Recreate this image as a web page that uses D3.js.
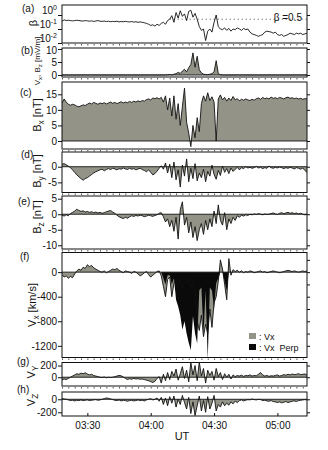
<!DOCTYPE html>
<html>
<head>
<meta charset="utf-8">
<script src="https://cdn.jsdelivr.net/npm/d3@7"></script>
<style>
    body { margin: 0; background: #fff; }
    svg { display: block; font-family: 'Liberation Sans', Arial, sans-serif; }
    .tick text { font-size: 10px; fill: #111; }
    .tick line { stroke: #111; }
    .minor .tick line { stroke: #555; }
</style>
</head>
<body>
<div id="chart"></div>
<script>
'use strict';

// Time grid: one sample per minute, 03:18 -> 05:14 UT
const startTime = '03:18';
const sampleCount = 117;
const timeTicks = ['03:30', '04:00', '04:30', '05:00'];

// (a) plasma beta
const beta = [
    .35, .45, .40, .42, .40, .38, .40, .42, .40, .38,
    .37, .40, .38, .36, .38, .35, .37, .40, .36, .35,
    .37, .34, .36, .33, .35, .34, .36, .32, .34, .33,
    .35, .33, .32, .34, .31, .33, .30, .32, .30, .28,
    .25, .22, .18, .20, .16, .22, .18, .25, .30, .22,
    .40, .50, .90, .30, 1.5, .60, 2.0, .80, 1.2, .40,
    1.8, 2.2, .70, 1.3, .50, .15, .08, .10, .015, .07,
    .10, .06, .30, 1.0, .15, .10, .09, .12, .08, .11,
    .07, .10, .09, .12, .10, .08, .11, .09, .10, .06,
    .045, .04, .035, .03, .035, .04, .06, .07, .065, .06,
    .05, .06, .04, .035, .04, .03, .035, .04, .05, .045,
    .04, .05, .045, .05, .04, .045, .05
];
// (b) Vx Bz [mV/m]
const vxBz = [
    0, 0, 0, 0, 0, 0, 0, 0, 0, 0,
    0, 0, 0, 0, 0, 0, 0, 0, 0, 0,
    0, 0, 0, 0, 0, 0, 0, 0, 0, 0,
    0, 0, 0, 0, 0, 0, 0, 0, 0, 0,
    0, 0, 0, 0, 0, 0, 0, 0, 0, 0,
    0.1, 0.2, 0, 0.3, 0.5, 1.0, 0.6, 1.5, 2.2, 1.2,
    2.8, 4.0, 8.5, 3.0, 7.2, 2.0, 0.8, 0.3, 0.2, 0.1,
    0.3, 0.5, 1.2, 5.5, 0.5, 0.1, 0, 0, 0, 0,
    0, 0, 0, 0, 0, 0, 0, 0, 0, 0,
    0, 0, 0, 0, 0, 0, 0, 0, 0, 0,
    0, 0, 0, 0, 0, 0, 0, 0, 0, 0,
    0, 0, 0, 0, 0, 0, 0
];
// (c) Bx [nT]
const bx = [
    12.2, 13.5, 12.5, 11.8, 11.5, 11.8, 11.6, 11.2, 11.0, 11.3,
    11.6, 11.4, 11.8, 12.2, 11.9, 12.4, 12.1, 11.8, 12.2, 12.0,
    12.3, 11.9, 12.2, 12.5, 12.1, 12.4, 12.0, 12.3, 12.6, 12.2,
    12.5, 12.3, 12.7, 12.4, 12.8, 12.5, 12.9, 12.6, 13.0, 12.8,
    13.3, 13.5, 13.2, 13.8, 13.6, 13.9, 13.5, 14.0, 12.5, 14.5,
    10.0, 13.8, 8.0, 14.5, 7.0, 12.0, 5.0, 11.0, 17.0, 6.0,
    2.5, -1.8, 5.0, 1.0, 7.5, 3.0, 12.0, 14.5, 12.8, 15.5,
    13.0, 14.2, 12.5, 0.0, 13.5, 14.8, 13.2, 14.0, 12.8, 13.8,
    13.0, 14.3, 13.2, 13.6, 12.9, 13.4, 13.1, 13.5, 13.2, 13.0,
    13.4, 13.1, 13.6, 13.8, 13.4, 14.0, 13.6, 13.8, 13.5, 14.1,
    13.7, 13.9, 13.6, 14.0, 13.8, 13.5, 13.9, 14.1, 13.7, 13.9,
    13.6, 13.8, 13.5, 13.7, 13.4, 13.6, 13.5
];
// (d) By [nT]
const by = [
    0.8, 1.0, 0.6, 0.2, -0.3, -1.0, -1.8, -2.6, -3.2, -3.8,
    -4.3, -3.8, -3.5, -3.0, -2.5, -2.0, -1.6, -1.3, -1.0, -0.8,
    -1.3, -0.9, -0.6, -0.9, -0.5, -0.7, -1.0, -0.6, -0.8, -0.4,
    -0.7, -0.9, -0.5, -0.8, -0.6, -1.0, -0.7, -0.5, -0.9, -1.2,
    -1.6, -1.0, -1.8, -2.6, -2.2, -1.4, -0.5, 0.3, -0.8, 1.2,
    -2.0, 0.8, -3.5, 1.5, -4.2, -1.0, -6.5, 0.5, -3.0, 2.5,
    -4.8, -0.5, -3.8, 1.0, -4.5, -2.0, -3.5, -0.8, -4.8, -1.5,
    -3.0, 0.5, -2.5, -4.0, -1.2, -2.8, 0.2, -1.8, -0.6, -2.2,
    -0.4, -1.5, -0.8, -0.2, -1.0, -0.3, -0.6, 0.0, -0.4, -0.2,
    -0.5, -0.3, 0.1, -0.4, -0.2, -0.6, -0.3, -0.5, 0.2, -0.3,
    -0.5, -0.2, -0.4, -0.1, -0.3, -0.6, -0.3, -0.5, -0.2, -0.4,
    -0.7, -0.3, -0.5, -0.8, -0.4, -1.2, -1.8
];
// (e) Bz [nT]
const bz = [
    -0.3, -0.6, -0.2, -0.5, 0.2, 0.6, 1.0, 1.6, 1.2, 0.9,
    1.1, 0.7, 0.9, 0.6, 0.8, 0.5, 0.7, 0.4, 0.6, 0.3,
    0.5, 0.8, 1.0, 1.2, 0.7, 0.3, -0.3, -0.8, -1.1, -1.4,
    -1.0, -1.3, -0.8, -0.5, -0.7, -0.4, -0.6, -0.3, -0.5, -0.8,
    -0.6, -0.3, -0.5, -0.7, -0.4, -0.2, 0.3, 0.5, -0.8, -2.5,
    -1.5, -4.0, -2.0, -5.5, -1.0, -8.0, 1.5, 4.0, -3.5, -1.0,
    -6.0, -2.5, -7.5, -4.0, -8.5, -5.0, -3.0, -6.5, -2.0, -5.0,
    -1.5, -4.0, 1.0, -3.0, 3.0, -2.0, -3.5, 0.5, -5.0, -1.5,
    -3.0, -1.0, -2.0, -0.5, -1.0, -0.3, -0.6, -0.2, -0.4, 0.0,
    -0.2, 0.1, -0.1, 0.2, 0.0, -0.2, 0.1, -0.1, 0.0, 0.2,
    0.4, 0.1, -0.1, 0.3, 0.5, 0.2, 0.4, 0.6, 0.3, 0.5,
    0.2, 0.4, 0.1, 0.3, 0.0, -0.2, 0.0
];
// (f) Vx and Vx perp [km/s]
const vx = [
    -40, -80, -60, -100, -70, -90, -30, 20, 50, 30,
    80, 60, 120, 90, 110, 70, 50, 30, 10, 0,
    20, -10, 10, 30, 50, 40, 60, 30, 10, -10,
    20, 10, 0, -20, 10, 0, -30, -60, -40, -10,
    10, -40, -80, -50, -20, 10, 20, -60, -230, -400,
    -120, -80, -400, -180, -120, -250, -100, -300, -150, -200,
    -100, -250, -150, -300, -800, -950, -700, -1050, -850, -1000,
    -600, -900, -500, -400, -150, 200, 50, -200, -450, 220,
    -50, 40, 10, 30, 0, 20, -10, 10, 0, 20,
    10, -10, 0, 10, 20, 0, 10, -10, 0, 10,
    20, 10, 0, -10, 0, 10, 20, 30, 20, 10,
    20, 10, 0, 10, 20, 10, 20
];
const vxPerp = [
    0, 0, 0, 0, 0, 0, 0, 0, 0, 0,
    0, 0, 0, 0, 0, 0, 0, 0, 0, 0,
    0, 0, 0, 0, 0, 0, 0, 0, 0, 0,
    0, 0, 0, 0, 0, 0, 0, 0, 0, 0,
    0, 0, 0, 0, 0, 0, 0, 0, -100, -200,
    -50, -50, -200, -100, -450, -560, -700, -940, -800, -1000,
    -1150, -1270, -720, -1000, -1160, -300, -250, -1000, -300, -1430,
    -250, -300, -600, -180, -100, 0, 0, -150, -300, 0,
    0, 0, 0, 0, 0, 0, 0, 0, 0, 0,
    0, 0, 0, 0, 0, 0, 0, 0, 0, 0,
    0, 0, 0, 0, 0, 0, 0, 0, 0, 0,
    0, 0, 0, 0, 0, 0, 0
];
// (g) Vy [km/s]
const vy = [
    -45, -30, -40, -20, 0, 20, 40, 60, 50, 70,
    60, 75, 55, 40, 50, 30, 20, 10, 0, -5,
    5, -10, 0, -5, 0, 10, 20, 30, 25, 5,
    -20, -40, -25, -35, -20, -30, -25, -35, -30, -40,
    -50, -60, -75, -90, -70, -20, 10, -100, 50, -60,
    80, -40, 100, 20, 140, -50, 60, 180, -20, 120,
    -80, 250, 40, 200, -60, 260, 20, 150, -100, 120,
    30, 100, -50, 150, 10, 80, -40, 60, 0, 50,
    -30, 40, 10, 30, 20, 35, 15, 30, 25, 40,
    20, 30, 25, 50, 80, 40, 20, 30, 15, 25,
    20, 30, 40, 20, 30, 45, 35, 50, 40, 55,
    45, 50, 60, 45, 50, 55, 40
];
// (h) Vz [km/s]
const vz = [
    10, 5, 0, -10, -20, -15, -25, -15, -20, -10,
    -20, -15, -10, -20, -15, -10, -5, -15, -10, 0,
    10, 20, 15, 5, -5, -15, -20, -10, -25, -15,
    -20, -30, -20, -15, -25, -20, -10, -20, -15, -25,
    -10, 0, 10, -10, 0, 20, -30, 30, -80, 20,
    -100, 40, -60, 50, -120, 0, -80, 60, -50, -150,
    30, -220, -40, -250, -100, 50, -180, -20, -200, 40,
    -150, -60, 60, -180, -80, -120, -40, -100, -60, -90,
    -40, -70, -30, -50, -20, -10, -25, -15, -5, -10,
    5, -5, -10, 0, -5, -20, -15, -25, -30, -20,
    -35, -40, -50, -40, -55, -45, -35, -50, -40, -30,
    -25, -35, -20, -15, -10, -5, -10
];

// Tick values
const betaTicks = [1, 0.1, 0.01];
const vxBzTicks = [0, 5, 10];
const bxTicks = [0, 5, 10, 15];
const byTicks = [0, -5];
const bzTicks = [5, 0, -5, -10];
const vxTicks = [0, -400, -800, -1200];
const vyTicks = [200, 0];
const vzTicks = [0, -200];
const betaRef = 0.5;

// Panel layout (pixels) and series
const panels = [
    {key: 'a', letter: '(a)', lx: 22, ly: 12, top: 5, bottom: 43, log: true,
        domain: [0.01, 5.18], ticks: betaTicks, layers: [{values: beta, line: true}],
        title: [['β']], tx: 37, ty: 23, size: 11},
    {key: 'b', letter: '(b)', lx: 21, ly: 54, top: 48, bottom: 77, labelDy: '0.5em',
        domain: [-0.77, 10.38], ticks: vxBzTicks, layers: [{values: vxBz, fill: 'gray', line: true}],
        title: [['V'], ['x', 1], [', B'], ['z', 1], [' [mV/m]']], tx: 40, ty: 61, size: 8},
    {key: 'c', letter: '(c)', lx: 20, ly: 96, top: 82, bottom: 149,
        domain: [-2.57, 18.95], ticks: bxTicks, layers: [{values: bx, fill: 'gray', line: true}],
        title: [['B'], ['x', 1], [' [nT]']], tx: 41, ty: 115, size: 11},
    {key: 'd', letter: '(d)', lx: 21, ly: 158, top: 152, bottom: 192.5,
        domain: [-8.24, 4.71], ticks: byTicks, layers: [{values: by, fill: 'gray', line: true}],
        title: [['B'], ['y', 1], [' [nT]']], tx: 41, ty: 171, size: 11},
    {key: 'e', letter: '(e)', lx: 18, ly: 205, top: 196, bottom: 249,
        domain: [-11.2, 5.87], ticks: bzTicks, layers: [{values: bz, fill: 'gray', line: true}],
        title: [['B'], ['z', 1], [' [nT]']], tx: 41, ty: 217, size: 11},
    {key: 'f', letter: '(f)', lx: 20, ly: 260, top: 252.5, bottom: 357.5,
        domain: [-1390, 320], ticks: vxTicks, minorRight: 200,
        layers: [{values: vx, fill: 'gray', line: true}, {values: vxPerp, fill: 'black'}],
        title: [['V'], ['x', 1], [' [km/s]']], tx: 36, ty: 305, size: 11},
    {key: 'g', letter: '(g)', lx: 17, ly: 365, top: 362.5, bottom: 386,
        domain: [-150, 252], ticks: vyTicks, layers: [{values: vy, fill: 'gray', line: true}],
        title: [['V'], ['Y', 1]], tx: 35, ty: 372, size: 11},
    {key: 'h', letter: '(h)', lx: 17, ly: 393, top: 392, bottom: 416,
        domain: [-257, 112], ticks: vzTicks, layers: [{values: vz, fill: 'gray', line: true}],
        title: [['V'], ['Z', 1]], tx: 35, ty: 400, size: 11}
];

/*
Stacked time-series panels
 */
class StackPlot {

    // Elements
    svg = null;
    defs = null;

    // Configs
    svgW = 328;
    svgH = 450;
    xLeft = 62;
    xRight = 307;
    colors = {gray: '#939388', black: '#0a0a0a', ink: '#111'};

    constructor(_panels, _target) {
        this.panels = _panels;
        this.target = _target;
        this.init();
    }

    /*
    1. Init
     */
    init() {
        const vis = this;

        vis.svg = d3.select(`#${vis.target}`)
            .append('svg')
            .attr('width', vis.svgW)
            .attr('height', vis.svgH);
        vis.defs = vis.svg.append('defs');

        vis.wrangle();
    }

    /*
    2. Wrangle
     */
    wrangle() {
        const vis = this;

        // Times for each sample
        vis.parse = d3.utcParse('%H:%M');
        vis.times = d3.range(sampleCount).map(i => d3.utcMinute.offset(vis.parse(startTime), i));
        vis.tickTimes = timeTicks.map(vis.parse);

        vis.x = d3.scaleUtc()
            .domain([vis.times[0], vis.times[vis.times.length - 1]])
            .range([vis.xLeft, vis.xRight]);

        vis.panels.forEach(p => {
            p.y = (p.log ? d3.scaleLog() : d3.scaleLinear())
                .domain(p.domain)
                .range([p.bottom, p.top]);
            p.layers.forEach(l => {
                l.points = l.values.map((v, i) => ({t: vis.times[i], v: v}));
            });
        });

        vis.render();
    }

    /*
    3. Render
     */
    render() {
        const vis = this;
        const w = vis.xRight - vis.xLeft;

        vis.panels.forEach(p => {
            const g = vis.svg.append('g').attr('class', `panel panel-${p.key}`);
            const y = p.y;

            // Clip to the panel box
            vis.defs.append('clipPath')
                .attr('id', `clip-${p.key}`)
                .append('rect')
                .attr('x', vis.xLeft)
                .attr('y', p.top)
                .attr('width', w)
                .attr('height', p.bottom - p.top);
            const plot = g.append('g').attr('clip-path', `url(#clip-${p.key})`);

            // Reference line for beta
            if (p.log) {
                plot.append('line')
                    .attr('x1', vis.x(vis.parse('04:09')))
                    .attr('x2', vis.xRight)
                    .attr('y1', y(betaRef))
                    .attr('y2', y(betaRef))
                    .attr('stroke', '#333')
                    .attr('stroke-width', 0.9)
                    .attr('stroke-dasharray', '1,3');
            }

            // Filled areas
            p.layers.filter(l => l.fill).forEach(l => {
                plot.append('path')
                    .datum(l.points)
                    .attr('fill', vis.colors[l.fill])
                    .attr('d', d3.area()
                        .x(d => vis.x(d.t))
                        .y0(y(0))
                        .y1(d => y(d.v)));
            });

            // Zero baseline
            if (!p.log) {
                plot.append('line')
                    .attr('x1', vis.xLeft)
                    .attr('x2', vis.xRight)
                    .attr('y1', y(0))
                    .attr('y2', y(0))
                    .attr('stroke', vis.colors.ink)
                    .attr('stroke-width', 0.9);
            }

            // Outline traces
            p.layers.filter(l => l.line).forEach(l => {
                plot.append('path')
                    .datum(l.points)
                    .attr('fill', 'none')
                    .attr('stroke', vis.colors.ink)
                    .attr('stroke-width', 0.9)
                    .attr('stroke-linejoin', 'round')
                    .attr('d', d3.line()
                        .x(d => vis.x(d.t))
                        .y(d => y(d.v)));
            });

            // Frame
            g.append('rect')
                .attr('x', vis.xLeft)
                .attr('y', p.top)
                .attr('width', w)
                .attr('height', p.bottom - p.top)
                .attr('fill', 'none')
                .attr('stroke', vis.colors.ink)
                .attr('stroke-width', 1);

            // Left axis
            const left = g.append('g')
                .attr('transform', `translate(${vis.xLeft},0)`)
                .call(d3.axisLeft(y)
                    .tickValues(p.ticks)
                    .tickSize(4)
                    .tickPadding(1)
                    .tickFormat(d => String(d)));
            left.select('.domain').remove();
            if (p.labelDy) {
                left.selectAll('.tick text').filter(d => d === p.ticks[p.ticks.length - 1])
                    .attr('dy', p.labelDy);
            }
            if (p.log) {
                left.selectAll('.tick text').each(function(d) {
                    const t = d3.select(this);
                    t.text('10').attr('dy', '-0.15em').attr('font-size', 9.5);
                    t.append('tspan')
                        .attr('dy', -4)
                        .attr('font-size', 7)
                        .text(Math.round(Math.log10(d)));
                });
            }

            // Right axis ticks
            const right = g.append('g')
                .attr('transform', `translate(${vis.xRight},0)`)
                .call(d3.axisRight(y)
                    .tickValues(p.minorRight
                        ? d3.range(-1200, 201, p.minorRight)
                        : p.ticks)
                    .tickSize(3)
                    .tickFormat(''));
            right.select('.domain').remove();

            // Dotted minor time ticks under the panel
            if (p.key !== 'h') {
                const minor = g.append('g')
                    .attr('class', 'minor')
                    .attr('transform', `translate(0,${p.bottom + 1})`)
                    .call(d3.axisBottom(vis.x)
                        .ticks(d3.utcMinute.every(3))
                        .tickSize(1.5)
                        .tickFormat(''));
                minor.select('.domain').remove();
            }

            // Panel letter
            g.append('text')
                .attr('x', p.lx)
                .attr('y', p.ly)
                .attr('font-size', 10)
                .attr('fill', vis.colors.ink)
                .text(p.letter);

            // Rotated axis title
            const title = g.append('text')
                .attr('transform', `translate(${p.tx},${p.ty}) rotate(-90)`)
                .attr('text-anchor', 'middle')
                .attr('font-size', p.size)
                .attr('fill', vis.colors.ink);
            let shifted = false;
            p.title.forEach(([txt, sub]) => {
                const span = title.append('tspan').text(txt);
                if (sub) {
                    span.attr('dy', p.size * 0.3).attr('font-size', p.size * 0.75);
                    shifted = true;
                } else if (shifted) {
                    span.attr('dy', -p.size * 0.3);
                    shifted = false;
                }
            });
        });

        // Beta reference label
        vis.svg.append('text')
            .attr('x', 302)
            .attr('y', 21)
            .attr('text-anchor', 'end')
            .attr('font-size', 10)
            .attr('fill', vis.colors.ink)
            .text('β =0.5');

        // Legend in panel (f)
        const legend = vis.svg.append('g')
            .attr('transform', 'translate(249,333)')
            .attr('font-size', 9)
            .attr('fill', vis.colors.ink);
        [['gray', ': Vx'], ['black', ': Vx  Perp']].forEach(([c, label], i) => {
            legend.append('rect')
                .attr('x', 0)
                .attr('y', i * 11)
                .attr('width', 7)
                .attr('height', 6)
                .attr('fill', vis.colors[c]);
            legend.append('text')
                .attr('x', 10)
                .attr('y', i * 11 + 6.5)
                .style('white-space', 'pre')
                .text(label);
        });

        // Time axis
        const bottom = vis.panels[vis.panels.length - 1].bottom;
        const xAxis = vis.svg.append('g')
            .attr('transform', `translate(0,${bottom})`)
            .call(d3.axisBottom(vis.x)
                .tickValues(vis.tickTimes)
                .tickSize(-3)
                .tickPadding(6)
                .tickFormat(d3.utcFormat('%H:%M')));
        xAxis.select('.domain').remove();
        xAxis.selectAll('.tick text').attr('font-size', 9.5);

        vis.svg.append('text')
            .attr('x', 182)
            .attr('y', 440)
            .attr('text-anchor', 'middle')
            .attr('font-size', 11)
            .attr('fill', vis.colors.ink)
            .text('UT');
    }
}

new StackPlot(panels, 'chart');
</script>
</body>
</html>
